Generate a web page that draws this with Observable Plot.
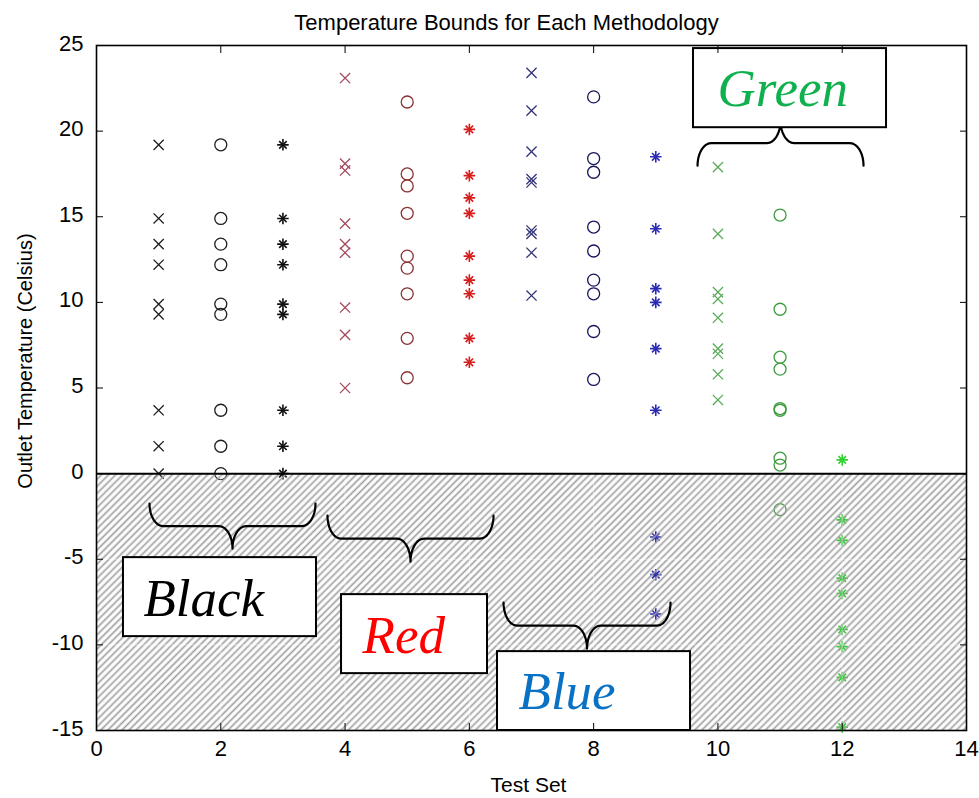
<!DOCTYPE html>
<html>
<head>
<meta charset="utf-8">
<script src="https://cdn.jsdelivr.net/npm/d3@7"></script>
<script src="https://cdn.jsdelivr.net/npm/@observablehq/plot@0.6"></script>
<style>
  html, body { margin: 0; padding: 0; background: #fff; overflow: hidden; }
  svg { display: block; }
</style>
</head>
<body>
<div id="chart"></div>
<script>
// ---------- texts & ticks ----------
const title = "Temperature Bounds for Each Methodology";
const xLabel = "Test Set";
const yLabel = "Outlet Temperature (Celsius)";
const xTicks = [0, 2, 4, 6, 8, 10, 12, 14];
const yTicks = [-15, -10, -5, 0, 5, 10, 15, 20, 25];

// ---------- data (test set -> temperature bounds) ----------
const testSets = [1, 2, 3, 4, 5, 6, 7, 8, 9, 10, 11, 12];
const blackCross  = [19.2, 14.9, 13.4, 12.2, 9.9, 9.3, 3.7, 1.6, 0];
const blackCircle = [19.2, 14.9, 13.4, 12.2, 9.9, 9.3, 3.7, 1.6, 0];
const blackStar   = [19.2, 14.9, 13.4, 12.2, 9.9, 9.3, 3.7, 1.6, 0];
const redCross    = [23.1, 18.1, 17.7, 14.6, 13.4, 12.9, 9.7, 8.1, 5.0];
const redCircle   = [21.7, 17.5, 16.8, 15.2, 12.7, 12.0, 10.5, 7.9, 5.6];
const redStar     = [20.1, 17.4, 16.1, 15.2, 12.7, 11.3, 10.5, 7.9, 6.5];
const blueCross   = [23.4, 21.2, 18.8, 17.2, 17.0, 14.2, 14.0, 12.9, 10.4];
const blueCircle  = [22.0, 18.4, 17.6, 14.4, 13.0, 11.3, 10.5, 8.3, 5.5];
const blueStar    = [18.5, 14.3, 10.8, 10.0, 7.3, 3.7, -3.7, -5.9, -8.2];
const greenCross  = [17.9, 14.0, 10.6, 10.2, 9.1, 7.3, 7.0, 5.8, 4.3];
const greenCircle = [15.1, 9.6, 6.8, 6.1, 3.8, 3.7, 0.9, 0.5, -2.1];
const greenStar   = [0.8, -2.7, -3.9, -6.1, -7.0, -9.1, -10.1, -11.9, -14.8];

// ---------- annotation labels ----------
const groupNames = ["Black", "Red", "Blue", "Green"];

// ---------- styling / layout (not data) ----------
const seriesValues = [blackCross, blackCircle, blackStar, redCross, redCircle, redStar,
                      blueCross, blueCircle, blueStar, greenCross, greenCircle, greenStar];
const seriesKind = ["x", "o", "*", "x", "o", "*", "x", "o", "*", "x", "o", "*"];
const seriesColor = ["#1e1e1e", "#1e1e1e", "#111111",
                     "#a34a5c", "#8a3434", "#d81c1c",
                     "#34347a", "#17175c", "#2a2ab4",
                     "#5aac5a", "#3e9c3e", "#2fd12f"];

const rows = seriesValues.flatMap((vals, i) =>
  vals.map(v => ({set: testSets[i], value: v, kind: seriesKind[i], color: seriesColor[i]})));
const crosses = rows.filter(d => d.kind === "x");
const circles = rows.filter(d => d.kind === "o");
const stars = rows.filter(d => d.kind === "*");

// annotation geometry in data coordinates
const groupTextColor = ["#000000", "#ff0000", "#0a72c4", "#0fb04e"];
const boxes = [
  {x1: 0.434, x2: 3.540, y1: -4.905, y2: -9.518},
  {x1: 3.943, x2: 6.292, y1: -7.066, y2: -11.679},
  {x1: 6.453, x2: 9.559, y1: -10.394, y2: -15},
  {x1: 9.607, x2: 12.713, y1: 24.82, y2: 20.20}
];
const labelPos = [
  {x: 0.756, y: -7.32},
  {x: 4.281, y: -9.48},
  {x: 6.791, y: -12.75},
  {x: 9.993, y: 22.46}
];
const labels = groupNames.map((t, i) => ({text: t, color: groupTextColor[i], ...labelPos[i]}));
const braces = [
  {x0: 0.853, x1: 3.524, yArm: -1.752, yTip: -4.380},
  {x0: 3.717, x1: 6.389, yArm: -2.453, yTip: -5.139},
  {x0: 6.550, x1: 9.237, yArm: -7.533, yTip: -10.219},
  {x0: 9.672, x1: 12.343, yArm: 17.985, yTip: 20.613}
];
const rx = 0.22;
const N = 12;
const bracePts = braces.flatMap((b, id) => {
  const xm = (b.x0 + b.x1) / 2, yMid = (b.yArm + b.yTip) / 2;
  const pts = [];
  for (let k = 0; k <= N; k++) { const t = k / N * Math.PI / 2;
    pts.push({id, x: b.x0 + rx * (1 - Math.cos(t)), y: b.yArm + (yMid - b.yArm) * Math.sin(t)}); }
  for (let k = 0; k <= N; k++) { const t = k / N * Math.PI / 2;
    pts.push({id, x: xm - rx + rx * Math.sin(t), y: b.yTip + (yMid - b.yTip) * Math.cos(t)}); }
  for (let k = N; k >= 0; k--) { const t = k / N * Math.PI / 2;
    pts.push({id, x: xm + rx - rx * Math.sin(t), y: b.yTip + (yMid - b.yTip) * Math.cos(t)}); }
  for (let k = N; k >= 0; k--) { const t = k / N * Math.PI / 2;
    pts.push({id, x: b.x1 - rx * (1 - Math.cos(t)), y: b.yArm + (yMid - b.yArm) * Math.sin(t)}); }
  return pts;
});
const hatchRegion = [{x1: 0, x2: 14, y1: -15, y2: 0}];
const fmt = d => String(d);
const tickFont = 22;

const svg = Plot.plot({
  width: 979,
  height: 798,
  marginLeft: 96,
  marginRight: 13,
  marginTop: 45,
  marginBottom: 68,
  x: {domain: [0, 14]},
  y: {domain: [-15, 25]},
  color: {type: "identity"},
  style: {fontFamily: "'Liberation Sans', Arial, sans-serif", fontSize: "21px", background: "#fff", color: "#000"},
  marks: [
    // data markers
    Plot.dot(crosses, {x: "set", y: "value", symbol: "times", r: 4.7, stroke: "color", strokeWidth: 1.3}),
    Plot.dot(circles, {x: "set", y: "value", symbol: "circle", r: 6, stroke: "color", fill: "none", strokeWidth: 1.3}),
    Plot.dot(stars, {x: "set", y: "value", symbol: "plus", r: 3.8, stroke: "color", strokeWidth: 1.6}),
    Plot.dot(stars, {x: "set", y: "value", symbol: "times", r: 3.5, stroke: "color", strokeWidth: 1.6}),
    // hatched region below zero
    Plot.rect(hatchRegion, {x1: "x1", x2: "x2", y1: "y1", y2: "y2", fill: "url(#hatch)"}),
    Plot.ruleX(xTicks, {x: d => d, y1: -15, y2: 0, stroke: "#fff", strokeOpacity: 0.45, strokeWidth: 1}),
    Plot.ruleY(yTicks.filter(d => d < 0), {y: d => d, stroke: "#fff", strokeOpacity: 0.45, strokeWidth: 1}),
    Plot.ruleY([0], {stroke: "#000", strokeWidth: 2}),
    // braces, boxes, labels
    Plot.line(bracePts, {x: "x", y: "y", z: "id", stroke: "#000", strokeWidth: 2.2, curve: "linear"}),
    Plot.rect(boxes, {x1: "x1", x2: "x2", y1: "y1", y2: "y2", fill: "#fff", stroke: "#000", strokeWidth: 2}),
    Plot.text(labels, {x: "x", y: "y", text: "text", fill: "color", textAnchor: "start", lineAnchor: "middle",
      fontFamily: "'Liberation Serif', 'Times New Roman', serif", fontStyle: "italic", fontSize: 53}),
    // frame & axes
    Plot.frame({stroke: "#000", strokeWidth: 1.6}),
    Plot.axisX(xTicks, {anchor: "bottom", tickSize: 7, dy: -7, tickFormat: () => "", label: null}),
    Plot.axisX(xTicks, {anchor: "top", tickSize: 7, dy: 7, tickFormat: () => "", label: null}),
    Plot.axisY(yTicks, {anchor: "left", tickSize: 7, dx: 7, tickFormat: () => "", label: null}),
    Plot.axisY(yTicks, {anchor: "right", tickSize: 7, dx: -7, tickFormat: () => "", label: null}),
    Plot.axisX(xTicks, {anchor: "bottom", tickSize: 0, tickPadding: 10, tickFormat: fmt, fontSize: tickFont, label: null}),
    Plot.axisY(yTicks, {anchor: "left", tickSize: 0, tickPadding: 13, dy: -2, tickFormat: fmt, fontSize: tickFont, label: null}),
    // titles
    Plot.text([title], {text: d => d, frameAnchor: "top", textAnchor: "middle", dx: -25, dy: -23, lineAnchor: "middle", fontSize: 22}),
    Plot.text([xLabel], {text: d => d, frameAnchor: "bottom", textAnchor: "middle", dx: -3, dy: 55, lineAnchor: "middle", fontSize: 21}),
    Plot.text([yLabel], {text: d => d, frameAnchor: "left", textAnchor: "middle", dx: -71, dy: -27, rotate: -90, lineAnchor: "middle", fontSize: 20})
  ]
});

const ns = "http://www.w3.org/2000/svg";
const defs = document.createElementNS(ns, "defs");
defs.innerHTML = '<pattern id="hatch" patternUnits="userSpaceOnUse" width="5" height="5" patternTransform="rotate(45)">' +
  '<rect width="5" height="5" fill="none"/>' +
  '<line x1="2.5" y1="-1" x2="2.5" y2="6" stroke="#a0a0a0" stroke-width="1.7"/></pattern>';
svg.insertBefore(defs, svg.firstChild);
document.getElementById("chart").appendChild(svg);
</script>
</body>
</html>
